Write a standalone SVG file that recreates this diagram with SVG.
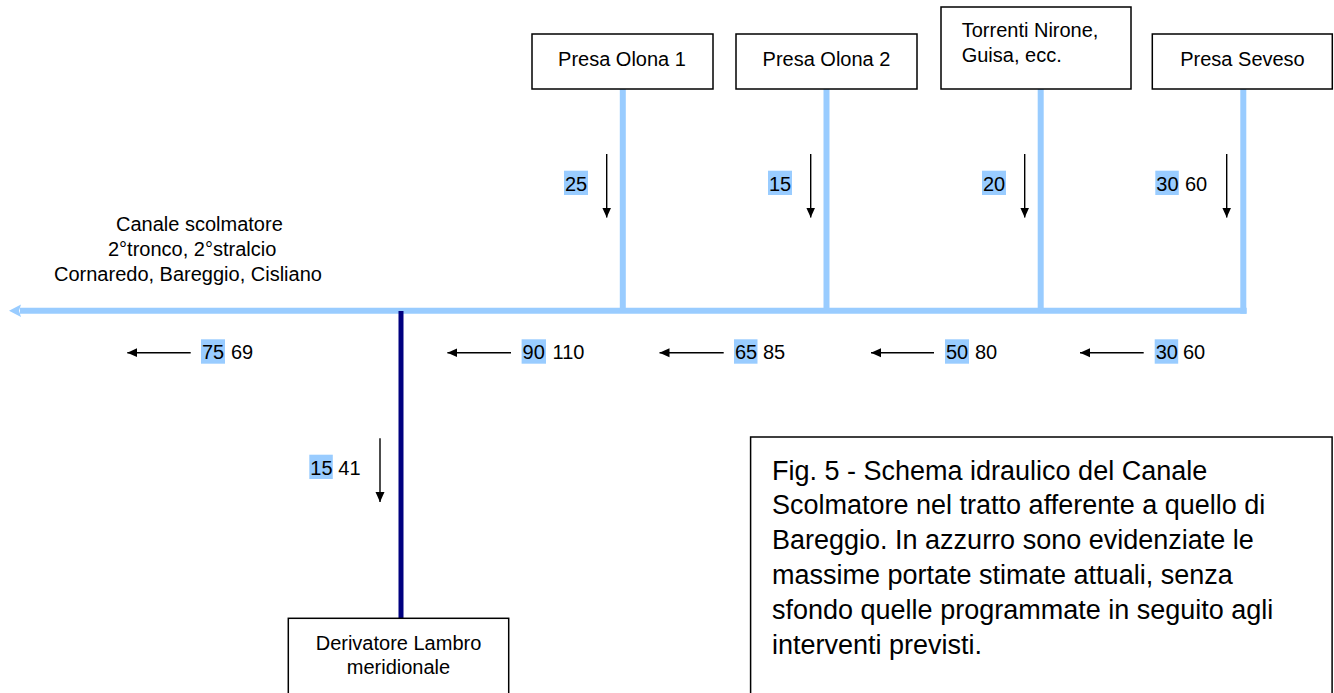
<svg xmlns="http://www.w3.org/2000/svg" width="1334" height="693" viewBox="0 0 1334 693">
<style>
text{font-family:"Liberation Sans",Arial,sans-serif;font-size:20px;fill:#000}
.box{fill:#fff;stroke:#000;stroke-width:1.5}
.canal{stroke:#99ccff;stroke-width:6;fill:none}
.flow{stroke:#000;stroke-width:1.4;fill:none;marker-end:url(#ah)}
.hl{fill:#99ccff}
.mid{text-anchor:middle}
.cap{font-size:27px}
</style>
<defs>
<marker id="ah" viewBox="0 0 10 10" refX="10" refY="5" markerWidth="10" markerHeight="10" orient="auto" markerUnits="userSpaceOnUse">
<path d="M0,0.5 L10,5 L0,9.5 z" fill="#000"/>
</marker>
</defs>
<rect width="1334" height="693" fill="#fff"/>

<g id="connectors">
<line class="canal" x1="20" y1="310.7" x2="1246.7" y2="310.7"/>
<polygon points="9,310.7 21,304.5 19,310.7 21,317" fill="#99ccff"/>
<line class="canal" x1="622.8" y1="89" x2="622.8" y2="310"/>
<line class="canal" x1="826.5" y1="89" x2="826.5" y2="310"/>
<line class="canal" x1="1040.7" y1="89" x2="1040.7" y2="310"/>
<line class="canal" x1="1243.3" y1="89" x2="1243.3" y2="313.7"/>
<line x1="401" y1="311" x2="401" y2="618.3" stroke="#000080" stroke-width="5"/>
</g>

<g id="flow-arrows">
<line class="flow" x1="606.7" y1="154" x2="606.7" y2="217.5"/>
<line class="flow" x1="810.7" y1="154" x2="810.7" y2="217.5"/>
<line class="flow" x1="1024.7" y1="154" x2="1024.7" y2="217.5"/>
<line class="flow" x1="1226.7" y1="154" x2="1226.7" y2="217.5"/>
<line class="flow" x1="380" y1="438.3" x2="380" y2="502"/>
<line class="flow" x1="190.7" y1="352.7" x2="127.3" y2="352.7"/>
<line class="flow" x1="511" y1="352.7" x2="447.4" y2="352.7"/>
<line class="flow" x1="723.7" y1="352.7" x2="659.5" y2="352.7"/>
<line class="flow" x1="934" y1="352.7" x2="871" y2="352.7"/>
<line class="flow" x1="1143.7" y1="352.7" x2="1080" y2="352.7"/>
</g>

<g id="flow-labels">
<rect class="hl" x="564" y="170.7" width="24" height="24.3"/>
<text x="565" y="190.7">25</text>
<rect class="hl" x="768" y="170.7" width="24" height="24.3"/>
<text x="769" y="190.7">15</text>
<rect class="hl" x="982" y="170.7" width="24" height="24.3"/>
<text x="983" y="190.7">20</text>
<rect class="hl" x="1155.3" y="170.7" width="23.5" height="24.3"/>
<text x="1156.3" y="190.7">30<tspan x="1185">60</tspan></text>
<rect class="hl" x="309.3" y="454.7" width="23.5" height="24.3"/>
<text x="310.3" y="475">15<tspan x="338.3">41</tspan></text>
<rect class="hl" x="201" y="339.3" width="24" height="24.4"/>
<text x="202" y="359.3">75<tspan x="231">69</tspan></text>
<rect class="hl" x="521.6" y="339.3" width="24.4" height="24.4"/>
<text x="522.6" y="359.3">90<tspan x="552.6">110</tspan></text>
<rect class="hl" x="734" y="339.3" width="23.5" height="24.4"/>
<text x="735" y="359.3">65<tspan x="763">85</tspan></text>
<rect class="hl" x="945" y="339.3" width="24" height="24.4"/>
<text x="946" y="359.3">50<tspan x="975">80</tspan></text>
<rect class="hl" x="1154.7" y="339.3" width="23.5" height="24.4"/>
<text x="1155.7" y="359.3">30<tspan x="1183">60</tspan></text>
</g>

<g id="canale-label">
<text x="116" y="230.7">Canale scolmatore</text>
<text x="108" y="256">2°tronco, 2°stralcio</text>
<text x="54" y="281">Cornaredo, Bareggio, Cisliano</text>
</g>

<g id="presa-olona-1">
<rect class="box" x="532" y="34" width="181" height="55"/>
<text class="mid" x="622" y="66">Presa Olona 1</text>
</g>
<g id="presa-olona-2">
<rect class="box" x="736" y="34" width="181" height="55"/>
<text class="mid" x="826.5" y="66">Presa Olona 2</text>
</g>
<g id="torrenti">
<rect class="box" x="941" y="7" width="190" height="82"/>
<text x="961.7" y="37.3">Torrenti Nirone,</text>
<text x="961.7" y="62.3">Guisa, ecc.</text>
</g>
<g id="presa-seveso">
<rect class="box" x="1152.3" y="34" width="180" height="55"/>
<text class="mid" x="1242.5" y="66">Presa Seveso</text>
</g>
<g id="derivatore">
<rect class="box" x="288.3" y="618.3" width="220.4" height="90"/>
<text class="mid" x="398.5" y="650">Derivatore Lambro</text>
<text class="mid" x="398.5" y="674">meridionale</text>
</g>
<g id="caption">
<rect class="box" x="750.6" y="437" width="581.5" height="280"/>
<text class="cap" x="772" y="479.5">Fig. 5 - Schema idraulico del Canale</text>
<text class="cap" x="772" y="514.4">Scolmatore nel tratto afferente a quello di</text>
<text class="cap" x="772" y="549.3">Bareggio. In azzurro sono evidenziate le</text>
<text class="cap" x="772" y="584.1">massime portate stimate attuali, senza</text>
<text class="cap" x="772" y="619">sfondo quelle programmate in seguito agli</text>
<text class="cap" x="772" y="653.8">interventi previsti.</text>
</g>
</svg>
